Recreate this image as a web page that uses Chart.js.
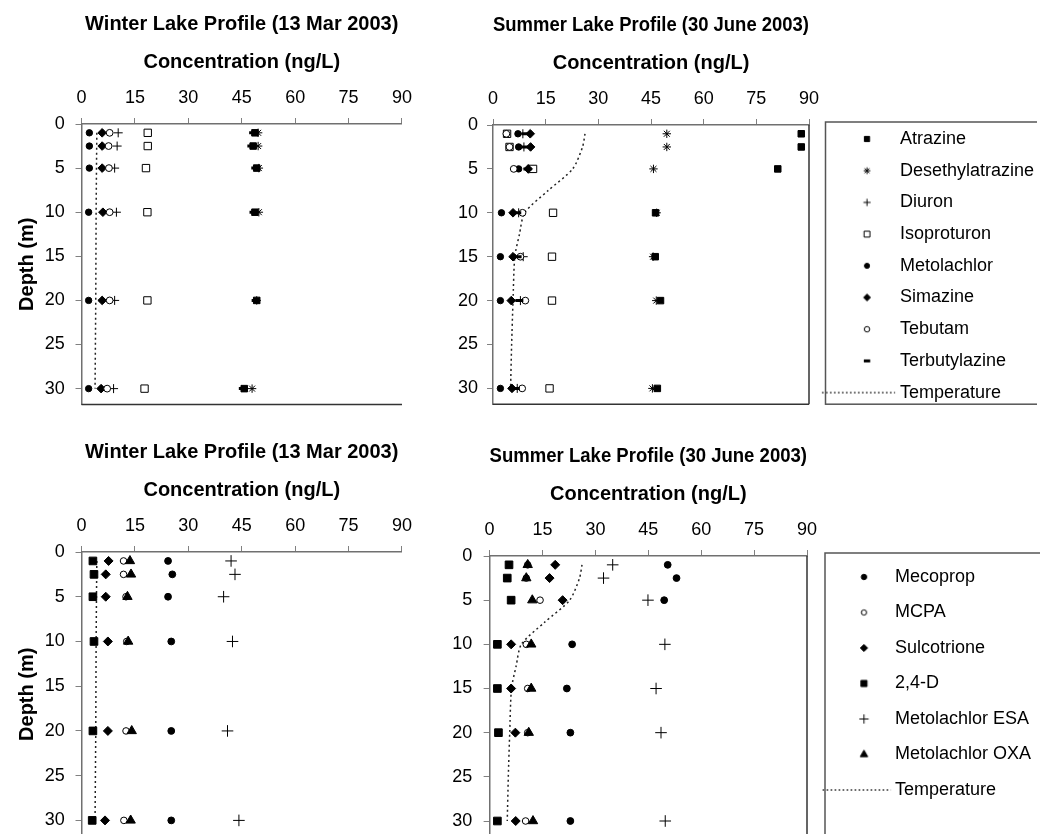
<!DOCTYPE HTML>
<html>

<head>
    <meta charset="UTF-8">
    <title>Lake Profiles 2003</title>
    <script src="https://cdn.jsdelivr.net/npm/chart.js"></script>
    <style>
        body { margin: 0; background: #fff; width: 1050px; height: 834px; overflow: hidden; position: relative; }
        canvas { position: absolute; }
    </style>
</head>

<body>
    <canvas id="winterTop" width="421" height="426" style="left:0px;top:0px"></canvas>
    <canvas id="summerTop" width="588" height="423" style="left:449px;top:1px"></canvas>
    <canvas id="winterBottom" width="421" height="430" style="left:0px;top:428px"></canvas>
    <canvas id="summerBottom" width="599" height="427" style="left:441px;top:432px"></canvas>
    <script>
        // sampling depths (m)
        const winterDepths = [1, 2.5, 5, 10, 20, 30];
        const summerDepths = [1, 2.5, 5, 10, 15, 20, 30];

        // temperature profiles
        const winterTempDepths = [1, 5, 10, 20, 30];
        const winterTemp = [4.3, 4.2, 4.1, 4.0, 3.8];
        const summerTempDepths = [1, 2.5, 5, 7.5, 10, 12.5, 15, 20, 25, 30];
        const summerTemp = [26.2, 25.5, 22.7, 15.6, 9.0, 7.5, 6.2, 5.7, 5.3, 5.0];

        // winter, top panel (ng/L)
        const wAtrazine = [48.7, 48.2, 49.2, 48.7, 49.2, 45.7];
        const wDesethylatrazine = [49.6, 49.6, 49.8, 49.8, 49.2, 47.9];
        const wDiuron = [10.3, 10.0, 9.3, 9.8, 9.3, 9.0];
        const wIsoproturon = [18.6, 18.6, 18.1, 18.5, 18.5, 17.7];
        const wMetolachlor = [2.2, 2.2, 2.2, 2.0, 2.0, 2.0];
        const wSimazine = [5.8, 5.8, 5.8, 6.0, 5.8, 5.5];
        const wTebutam = [7.9, 7.6, 7.7, 7.9, 7.9, 7.2];
        const wTerbutylazine = [48.2, 47.7, 48.8, 48.3, 48.9, 45.3];

        // summer, top panel (ng/L)
        const sAtrazine = [87.8, 87.8, 81.1, 46.3, 46.2, 47.7, 46.8];
        const sDesethylatrazine = [49.5, 49.5, 45.7, 46.6, 45.6, 46.5, 45.4];
        const sDiuron = [8.5, 8.8, 10.2, 7.3, 8.6, 7.8, 6.9];
        const sIsoproturon = [4.0, 4.7, 11.4, 17.1, 16.8, 16.8, 16.1];
        const sMetolachlor = [7.1, 7.3, 7.3, 2.4, 2.1, 2.1, 2.1];
        const sSimazine = [10.6, 10.7, 10.0, 5.7, 5.7, 5.2, 5.4];
        const sTebutam = [3.8, 4.7, 5.9, 8.4, 7.8, 9.2, 8.3];
        const sTerbutylazine = [9.2, 9.3, 9.8, 6.9, 7.0, 7.5, 6.5];

        // winter, bottom panel (ng/L)
        const wMecoprop = [24.3, 25.5, 24.3, 25.2, 25.2, 25.2];
        const wMCPA = [11.8, 11.8, 12.5, 12.7, 12.5, 11.9];
        const wSulcotrione = [7.6, 6.8, 6.8, 7.4, 7.4, 6.6];
        const w24D = [3.2, 3.5, 3.2, 3.5, 3.2, 3.0];
        const wMetolachlorESA = [42.0, 43.1, 39.9, 42.4, 41.0, 44.2];
        const wMetolachlorOXA = [13.6, 13.9, 12.9, 13.1, 14.1, 13.8];

        // summer, bottom panel (ng/L)
        const sMecoprop = [50.5, 53.0, 49.5, 23.4, 21.9, 22.9, 22.9];
        const sMCPA = [10.8, 10.4, 14.3, 10.4, 10.8, 10.8, 10.2];
        const sSulcotrione = [18.6, 17.0, 20.7, 6.1, 6.1, 7.3, 7.4];
        const s24D = [5.5, 5.0, 6.1, 2.2, 2.2, 2.5, 2.2];
        const sMetolachlorESA = [34.9, 32.3, 44.9, 49.7, 47.2, 48.6, 49.8];
        const sMetolachlorOXA = [10.8, 10.4, 12.1, 11.8, 11.8, 11.1, 12.3];

        const concTicks = { min: 0, max: 90, step: 15 };
        const depthTicks = { min: 0, max: 31.8, step: 5 };

        Chart.defaults.font.family = "'Liberation Sans', Arial, sans-serif";
        Chart.defaults.color = '#000';

        // marker look for each compound
        const markers = {
            'Atrazine': { style: 'rect', r: 4.6 },
            'Desethylatrazine': { style: 'star', r: 4.2 },
            'Diuron': { style: 'cross', r: 4.5 },
            'Isoproturon': { style: 'rect', r: 5.2, open: true },
            'Metolachlor': { style: 'circle', r: 3.2 },
            'Simazine': { style: 'rectRot', r: 4.3 },
            'Tebutam': { style: 'circle', r: 3.4, open: true },
            'Terbutylazine': { style: 'line', r: 4, bw: 3 },
            'Mecoprop': { style: 'circle', r: 3.4 },
            'MCPA': { style: 'circle', r: 3.3, open: true },
            'Sulcotrione': { style: 'rectRot', r: 4.5 },
            '2,4-D': { style: 'rect', r: 5.4 },
            'Metolachlor ESA': { style: 'cross', r: 5.8 },
            'Metolachlor OXA': { style: 'triangle', r: 5.4 },
            'Temperature': { line: true }
        };

        function pairs(xs, ys) {
            return xs.map((v, i) => ({ x: v, y: ys[i] }));
        }

        // later series are drawn over earlier ones, like the original
        function markerSet(name, values, depths, index) {
            const m = markers[name];
            return {
                label: name,
                data: pairs(values, depths),
                order: 20 - index,
                pointStyle: m.style,
                pointRadius: m.r,
                pointBackgroundColor: m.open ? '#fff' : '#000',
                pointBorderColor: '#000',
                pointBorderWidth: m.bw || 1,
                showLine: false
            };
        }

        function tempSet(values, depths, tension) {
            return {
                label: 'Temperature',
                data: pairs(values, depths),
                order: 50,
                showLine: true,
                pointRadius: 0,
                borderColor: '#222',
                borderWidth: 1.5,
                borderDash: [2, 3],
                tension: tension,
                fill: false
            };
        }

        // small pictures used as legend symbols, so the dotted line can be long
        function legendImage(name, cfg) {
            const m = markers[name];
            const c = document.createElement('canvas');
            c.width = 90;
            c.height = 18;
            const g = c.getContext('2d');
            if (m.line) {
                g.strokeStyle = '#222';
                g.lineWidth = 1.3;
                g.setLineDash([1.5, 2.5]);
                g.beginPath();
                g.moveTo(cfg.lineFrom, 9);
                g.lineTo(cfg.lineTo, 9);
                g.stroke();
                return c;
            }
            g.fillStyle = m.open ? '#fff' : '#000';
            g.strokeStyle = '#000';
            g.lineWidth = m.bw || 1;
            Chart.helpers.drawPoint(g, { pointStyle: m.style, radius: m.r * 0.8, rotation: 0, borderWidth: m.bw || 1 }, cfg.markerX, 9);
            return c;
        }

        const framePlugin = {
            id: 'frame',
            afterDraw(chart, args, opts) {
                const ctx = chart.ctx;
                const a = chart.chartArea;
                ctx.save();
                ctx.lineWidth = 1.5;
                ctx.strokeStyle = '#333';
                ctx.beginPath();
                if (opts.bottom) { ctx.moveTo(a.left, a.bottom); ctx.lineTo(a.right, a.bottom); }
                if (opts.right) { ctx.moveTo(a.right, a.top); ctx.lineTo(a.right, a.bottom); }
                ctx.stroke();
                if (opts.boxGap) {
                    ctx.strokeStyle = '#555';
                    ctx.strokeRect(a.right + opts.boxGap, a.top - 3, 400, a.bottom - a.top + 3);
                }
                ctx.restore();
            }
        };

        function makeLegend(cfg) {
            const images = {};
            return {
                display: true,
                position: 'right',
                fullSize: true,
                align: 'start',
                maxWidth: cfg.maxWidth,
                title: { display: true, text: '', font: { size: 10 }, padding: { top: cfg.titleGap, bottom: 0 } },
                labels: {
                    usePointStyle: true,
                    pointStyleWidth: cfg.boxWidth,
                    boxHeight: 18,
                    padding: cfg.padding,
                    color: '#000',
                    font: { size: 18 },
                    generateLabels: chart => chart.data.datasets.map((ds, i) => {
                        if (!images[ds.label]) images[ds.label] = legendImage(ds.label, cfg);
                        return {
                            text: ds.label,
                            pointStyle: images[ds.label],
                            fillStyle: 'rgba(0,0,0,0)',
                            strokeStyle: 'rgba(0,0,0,0)',
                            lineWidth: 0,
                            hidden: false,
                            datasetIndex: i,
                            fontColor: '#000'
                        };
                    })
                }
            };
        }

        function panel(id, o) {
            const axisGrid = { drawOnChartArea: false, tickLength: 6, color: '#808080' };
            const axisBorder = { color: '#707070', width: 1.5 };
            return new Chart(document.getElementById(id), {
                type: 'scatter',
                data: { datasets: o.datasets },
                options: {
                    responsive: false,
                    animation: false,
                    devicePixelRatio: 1,
                    events: [],
                    layout: { padding: 0 },
                    plugins: {
                        title: {
                            display: true, text: o.title, fullSize: false, color: '#000',
                            font: { size: 20, weight: 'bold' }, padding: { top: 12, bottom: 10 }
                        },
                        legend: o.legend ? makeLegend(o.legend) : { display: false },
                        tooltip: { enabled: false },
                        frame: o.frame
                    },
                    scales: {
                        x: {
                            type: 'linear', position: 'top',
                            min: concTicks.min, max: concTicks.max,
                            ticks: { stepSize: concTicks.step, padding: 9, color: '#000', font: { size: 18 } },
                            grid: axisGrid,
                            border: axisBorder,
                            title: {
                                display: true, text: 'Concentration (ng/L)', color: '#000',
                                font: { size: 20, weight: 'bold' }, padding: { top: 4, bottom: 4.4 }
                            }
                        },
                        y: {
                            type: 'linear', reverse: true,
                            min: depthTicks.min, max: depthTicks.max,
                            ticks: { stepSize: depthTicks.step, includeBounds: false, padding: o.yPad, color: '#000', font: { size: 18 } },
                            grid: axisGrid,
                            border: axisBorder,
                            title: o.depthTitle ? {
                                display: true, text: 'Depth (m)', color: '#000',
                                font: { size: 20, weight: 'bold' }, padding: { top: 15, bottom: -4.9 }
                            } : { display: false }
                        }
                    }
                },
                plugins: [framePlugin]
            });
        }

        panel('winterTop', {
            title: 'Winter Lake Profile (13 Mar 2003)',
            depthTitle: true,
            yPad: 10.7,
            frame: { bottom: true },
            datasets: [
                markerSet('Atrazine', wAtrazine, winterDepths, 0),
                markerSet('Desethylatrazine', wDesethylatrazine, winterDepths, 1),
                markerSet('Diuron', wDiuron, winterDepths, 2),
                markerSet('Isoproturon', wIsoproturon, winterDepths, 3),
                markerSet('Metolachlor', wMetolachlor, winterDepths, 4),
                markerSet('Simazine', wSimazine, winterDepths, 5),
                markerSet('Tebutam', wTebutam, winterDepths, 6),
                markerSet('Terbutylazine', wTerbutylazine, winterDepths, 7),
                tempSet(winterTemp, winterTempDepths, 0)
            ]
        });

        panel('summerTop', {
            title: 'Summer Lake Profile (30 June 2003)',
            depthTitle: false,
            yPad: 9,
            frame: { bottom: true, right: true, boxGap: 16.5 },
            legend: { maxWidth: 228, boxWidth: 68.3, padding: 13.7, titleGap: 103.3, markerX: 55.15, lineFrom: 10.15, lineTo: 83.15 },
            datasets: [
                markerSet('Atrazine', sAtrazine, summerDepths, 0),
                markerSet('Desethylatrazine', sDesethylatrazine, summerDepths, 1),
                markerSet('Diuron', sDiuron, summerDepths, 2),
                markerSet('Isoproturon', sIsoproturon, summerDepths, 3),
                markerSet('Metolachlor', sMetolachlor, summerDepths, 4),
                markerSet('Simazine', sSimazine, summerDepths, 5),
                markerSet('Tebutam', sTebutam, summerDepths, 6),
                markerSet('Terbutylazine', sTerbutylazine, summerDepths, 7),
                tempSet(summerTemp, summerTempDepths, 0.25)
            ]
        });

        panel('winterBottom', {
            title: 'Winter Lake Profile (13 Mar 2003)',
            depthTitle: true,
            yPad: 10.7,
            frame: {},
            datasets: [
                markerSet('Mecoprop', wMecoprop, winterDepths, 0),
                markerSet('MCPA', wMCPA, winterDepths, 1),
                markerSet('Sulcotrione', wSulcotrione, winterDepths, 2),
                markerSet('2,4-D', w24D, winterDepths, 3),
                markerSet('Metolachlor ESA', wMetolachlorESA, winterDepths, 4),
                markerSet('Metolachlor OXA', wMetolachlorOXA, winterDepths, 5),
                tempSet(winterTemp, winterTempDepths, 0)
            ]
        });

        panel('summerBottom', {
            title: 'Summer Lake Profile (30 June 2003)',
            depthTitle: false,
            yPad: 11.3,
            frame: { bottom: true, right: true, boxGap: 18 },
            legend: { maxWidth: 233, boxWidth: 61.5, padding: 17.5, titleGap: 106.5, markerX: 53.75, lineFrom: 12.5, lineTo: 80.7 },
            datasets: [
                markerSet('Mecoprop', sMecoprop, summerDepths, 0),
                markerSet('MCPA', sMCPA, summerDepths, 1),
                markerSet('Sulcotrione', sSulcotrione, summerDepths, 2),
                markerSet('2,4-D', s24D, summerDepths, 3),
                markerSet('Metolachlor ESA', sMetolachlorESA, summerDepths, 4),
                markerSet('Metolachlor OXA', sMetolachlorOXA, summerDepths, 5),
                tempSet(summerTemp, summerTempDepths, 0.25)
            ]
        });
    </script>
</body>

</html>
